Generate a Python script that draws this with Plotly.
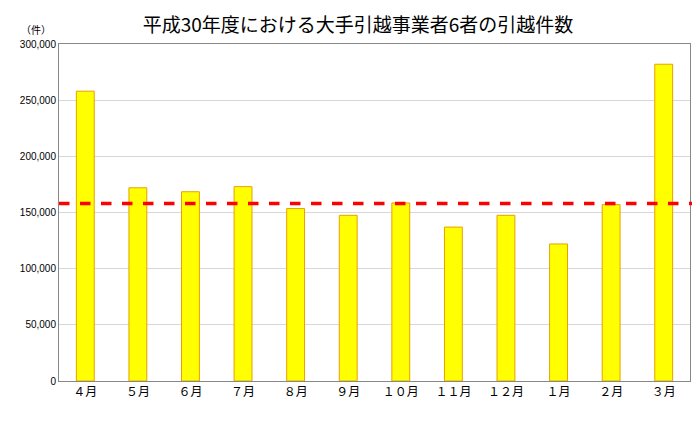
import plotly.graph_objects as go

months = ["４月", "５月", "６月", "７月", "８月", "９月", "１０月", "１１月", "１２月", "１月", "２月", "３月"]
counts = [258000, 172000, 168500, 173000, 153500, 147500, 158500, 137000, 147500, 122000, 157000, 282000]
average = 158000
title = "平成30年度における大手引越事業者6者の引越件数"
tickvals = [0, 50000, 100000, 150000, 200000, 250000, 300000]
ticktext = ["0", "50,000", "100,000", "150,000", "200,000", "250,000", "300,000"]

fig = go.Figure()
fig.add_bar(x=months, y=counts, marker=dict(color="#FFFF00", line=dict(color="#E8A000", width=1)))
fig.add_shape(type="line", xref="paper", yref="y", x0=0, x1=1.03, y0=average, y1=average,
              line=dict(color="#FF0000", width=3.5, dash="dash"))
fig.update_layout(
    width=700, height=425, margin=dict(l=45, r=18, t=36, b=52),
    paper_bgcolor="white", plot_bgcolor="white", showlegend=False, bargap=0.66,
    font=dict(family="Noto Sans CJK JP", color="black"),
    title=dict(text=title, x=0.5, xanchor="center", y=0.96, yanchor="middle", font=dict(size=19)),
    annotations=[dict(text="（件）", xref="paper", yref="paper", x=-0.01, y=1.015, xanchor="right",
                      yanchor="bottom", showarrow=False, font=dict(size=10))],
)
fig.update_xaxes(showline=True, linecolor="#888", mirror=True, tickfont=dict(size=12), ticks="")
fig.update_yaxes(range=[0, 300000], tickvals=tickvals, ticktext=ticktext, showgrid=True,
                 gridcolor="#d8d8d8", showline=True, linecolor="#888", mirror=True,
                 tickfont=dict(size=10, family="Liberation Sans"), zeroline=False)
fig.write_html("out.html")
